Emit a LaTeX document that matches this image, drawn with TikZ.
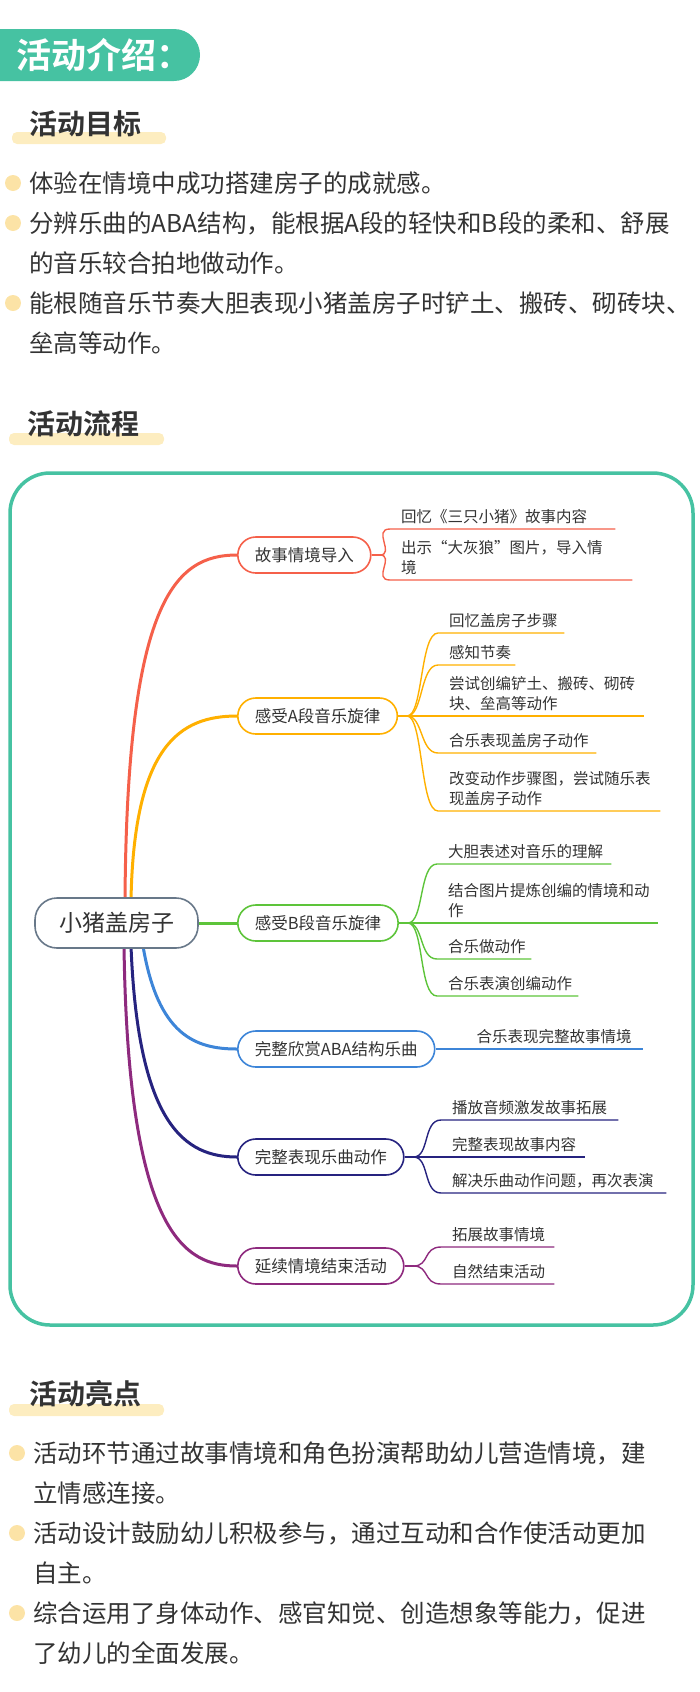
\documentclass[tikz,border=0pt]{standalone}
\usepackage{fontspec}
\setmainfont{Noto Sans CJK SC}[BoldFont={Noto Sans CJK SC Bold}]
\usetikzlibrary{positioning}
\definecolor{teal}{HTML}{46C2A2}
\definecolor{ink}{HTML}{333333}
\definecolor{cream}{HTML}{FDEDC0}
\definecolor{dot}{HTML}{FCE3A6}
\definecolor{rootc}{HTML}{687889}
\definecolor{redc}{HTML}{F5604A}
\definecolor{orangec}{HTML}{FFB000}
\definecolor{greenc}{HTML}{5DC43A}
\definecolor{bluec}{HTML}{3D85D8}
\definecolor{navyc}{HTML}{26237F}
\definecolor{purplec}{HTML}{8E2A7E}
\tikzset{
  head/.style={anchor=west,font=\bfseries\fontsize{28}{30}\selectfont,text=ink,inner sep=0},
  bullet/.style={anchor=base west,align=left,inner sep=0,text=ink,font=\fontsize{24.5}{40}\selectfont},
  branch/.style={draw,line width=1.6pt,rounded corners=18pt,minimum height=36pt,inner xsep=17pt,anchor=west,text=ink,font=\fontsize{16.5}{20}\selectfont,fill=white},
  leaf/.style={anchor=south west,align=left,inner xsep=11pt,inner ysep=5pt,text=ink,font=\fontsize{15.5}{20}\selectfont},
  stem/.style={line width=3pt,line cap=round},
  twig/.style={line width=1.4pt}
}
\newcommand{\dotat}[2]{\fill[dot] (#1,#2) circle (8);}
\begin{document}
\begin{tikzpicture}[x=1pt,y=-1pt]
  \useasboundingbox (0,0) rectangle (700,1692);
  % title banner
  \fill[teal,rounded corners=26pt] (-30,29) rectangle (200,81);
  \node[anchor=west,text=white,font=\bfseries\fontsize{35}{36}\selectfont,inner sep=0] (title) at (16,55) {活动介绍：};
  % goals
  \fill[cream,rounded corners=5pt] (12,132) rectangle (166,144);
  \node[head] (goals) at (29,124) {活动目标};
  \foreach \y in {183,223,303} {\dotat{13}{\y}}
  \node[bullet] (g1) at (29,352) {体验在情境中成功搭建房子的成就感。\\
    分辨乐曲的ABA结构，能根据A段的轻快和B段的柔和、舒展\\
    的音乐较合拍地做动作。\\
    能根随音乐节奏大胆表现小猪盖房子时铲土、搬砖、砌砖块、\\
    垒高等动作。};
  % process
  \fill[cream,rounded corners=5pt] (9,433) rectangle (164,445);
  \node[head] (flow) at (27,424) {活动流程};
  \draw[teal,line width=3.5pt,rounded corners=40pt] (10,473) rectangle (693,1325);
  % root and stems
  \draw[stem,redc] (125,900) .. controls (127,600) and (175,555) .. (237,555);
  \draw[stem,orangec] (131,900) .. controls (134,745) and (180,716) .. (237,716);
  \draw[stem,greenc] (190,923) -- (237,923);
  \draw[stem,bluec] (143,946) .. controls (158,1035) and (195,1049) .. (237,1049);
  \draw[stem,navyc] (131,946) .. controls (138,1125) and (185,1157) .. (237,1157);
  \draw[stem,purplec] (124,946) .. controls (128,1235) and (185,1266) .. (237,1266);
  \node[draw=rootc,line width=1.6pt,rounded corners=22pt,fill=white,minimum width=163pt,minimum height=50pt,text=ink,font=\fontsize{23}{26}\selectfont] (root) at (116.5,923) {小猪盖房子};
  % branches
  \node[branch,draw=redc] (story) at (237,555) {故事情境导入};
  \node[branch,draw=orangec] (partA) at (237,716) {感受A段音乐旋律};
  \node[branch,draw=greenc] (partB) at (237,923) {感受B段音乐旋律};
  \node[branch,draw=bluec] (whole) at (237,1049) {完整欣赏ABA结构乐曲};
  \node[branch,draw=navyc] (show) at (237,1157) {完整表现乐曲动作};
  \node[branch,draw=purplec] (goon) at (237,1266) {延续情境结束活动};
  % forks
  \coordinate (storyF) at ([xshift=8pt]story.east);
  \coordinate (partAF) at ([xshift=9pt]partA.east);
  \coordinate (partBF) at ([xshift=9pt]partB.east);
  \coordinate (showF) at ([xshift=9pt]show.east);
  \coordinate (goonF) at ([xshift=9pt]goon.east);
  \draw[twig,redc] (story) -- (storyF);
  \draw[twig,orangec] (partA) -- (partAF);
  \draw[twig,greenc] (partB) -- (partBF);
  \draw[twig,navyc] (show) -- (showF);
  \draw[twig,purplec] (goon) -- (goonF);
  % leaves
  \node[leaf,text width=203pt] (story1) at (390,529) {回忆《三只小猪》故事内容};
  \node[leaf,text width=220pt] (story2) at (390,580) {出示“大灰狼”图片，导入情\\境};
  \node[leaf,text width=104pt] (partA1) at (438,633) {回忆盖房子步骤};
  \node[leaf,text width=55pt] (partA2) at (438,665) {感知节奏};
  \node[leaf,text width=184pt] (partA3) at (438,716) {尝试创编铲土、搬砖、砌砖\\块、垒高等动作};
  \node[leaf,text width=136pt] (partA4) at (438,753) {合乐表现盖房子动作};
  \node[leaf,text width=200pt] (partA5) at (438,811) {改变动作步骤图，尝试随乐表\\现盖房子动作};
  \node[leaf,text width=152pt] (partB1) at (437,864) {大胆表述对音乐的理解};
  \node[leaf,text width=199pt] (partB2) at (437,923) {结合图片提炼创编的情境和动\\作};
  \node[leaf,text width=72pt] (partB3) at (437,959) {合乐做动作};
  \node[leaf,text width=119pt] (partB4) at (437,996) {合乐表演创编动作};
  \node[leaf,align=right,text width=185pt] (whole1) at (whole.east |- 0,1049) {合乐表现完整故事情境};
  \node[leaf,text width=155pt] (show1) at (441,1120) {播放音频激发故事拓展};
  \node[leaf,text width=122pt] (show2) at (441,1157) {完整表现故事内容};
  \node[leaf,text width=203pt] (show3) at (441,1193) {解决乐曲动作问题，再次表演};
  \node[leaf,text width=91pt] (goon1) at (441,1247) {拓展故事情境};
  \node[leaf,text width=91pt] (goon2) at (441,1284) {自然结束活动};
  \foreach \f/\l/\c in {storyF/story1/redc,storyF/story2/redc,
      partAF/partA1/orangec,partAF/partA2/orangec,partAF/partA3/orangec,partAF/partA4/orangec,partAF/partA5/orangec,
      partBF/partB1/greenc,partBF/partB2/greenc,partBF/partB3/greenc,partBF/partB4/greenc,
      showF/show1/navyc,showF/show2/navyc,showF/show3/navyc,
      goonF/goon1/purplec,goonF/goon2/purplec}
    \draw[twig,\c] (\f) .. controls +(16,0) and +(-18,0) .. (\l.south west) -- (\l.south east);
  \draw[twig,bluec] (whole.east) -- (whole1.south east);
  % highlights
  \fill[cream,rounded corners=5pt] (9,1404) rectangle (164,1416);
  \node[head] (points) at (29,1394) {活动亮点};
  \foreach \y in {1453,1533,1613} {\dotat{17}{\y}}
  \node[bullet] (h1) at (33,1662) {活动环节通过故事情境和角色扮演帮助幼儿营造情境，建\\
    立情感连接。\\
    活动设计鼓励幼儿积极参与，通过互动和合作使活动更加\\
    自主。\\
    综合运用了身体动作、感官知觉、创造想象等能力，促进\\
    了幼儿的全面发展。};
\end{tikzpicture}
\end{document}
